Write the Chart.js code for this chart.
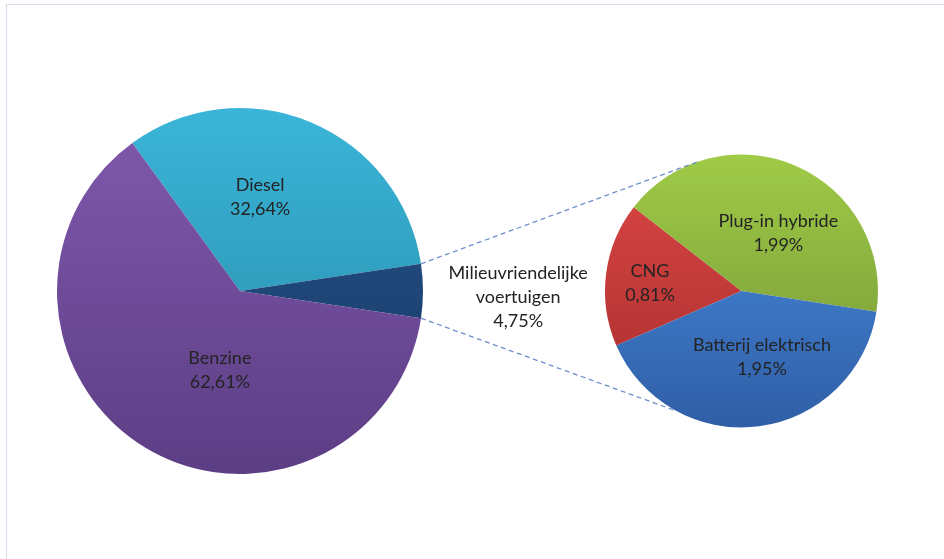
<!DOCTYPE html>
<html><head><meta charset="utf-8">
<script src="https://cdn.jsdelivr.net/npm/chart.js@4.4.0/dist/chart.umd.min.js"></script>
<style>
html,body{margin:0;padding:0;background:#fff;}
#wrap{position:relative;width:944px;height:559px;overflow:hidden;background:#fff;}
#frame{position:absolute;left:6px;top:4px;width:950px;height:570px;border-top:1px solid #d5dfeb;border-left:1px solid #d5dfeb;}
canvas{position:absolute;left:0;top:0;}
</style></head><body>
<div id="wrap"><div id="frame"></div>
<canvas id="c1" width="944" height="559"></canvas>
<canvas id="c2" width="944" height="559"></canvas></div>
<script>
// ---- data ----
const mainLabels = ['Diesel', 'Milieuvriendelijke voertuigen', 'Benzine'];
const mainValues = [32.64, 4.75, 62.61];
const subLabels = ['CNG', 'Plug-in hybride', 'Batterij elektrisch'];
const subValues = [0.81, 1.99, 1.95];

// ---- styles ----
const mainLabelLines = [['Diesel'], ['Milieuvriendelijke', 'voertuigen'], ['Benzine']];
const subLabelLines = [['CNG'], ['Plug-in hybride'], ['Batterij elektrisch']];
const mainGrad = [['#3ab5d9', '#2788a3'], ['#27568f', '#163660'], ['#8159ad', '#5c3e85']];
const subGrad = [['#dc4745', '#a62d2d'], ['#a0cb47', '#6f9135'], ['#4b90e2', '#2f5ea6']];
const mainLabelOffsets = [[0.11, -0.513], [1.52, 0.033], [-0.11, 0.434]];
const subLabelOffsets = [[-0.67, -0.06], [0.27, -0.425], [0.15, 0.485]];
const FONT = '18px Lato';
const LINE_H = 24;
const TEXT_COLOR = '#232323';
const SUB_ROTATION = 246.5;
const CONNECT_ANGLES = [-108.8, 118.5];

const fmt = v => v.toFixed(2).replace('.', ',') + '%';

function gradFill(grads) {
  return (ctx) => {
    const ca = ctx.chart.chartArea;
    const g2 = grads[ctx.dataIndex];
    if (!ca) return g2[0];
    const g = ctx.chart.ctx.createLinearGradient(0, ca.top, 0, ca.bottom);
    g.addColorStop(0, g2[0]);
    g.addColorStop(1, g2[1]);
    return g;
  };
}

function labelPlugin(lines, offsets, values) {
  return {
    id: 'lbl',
    afterDatasetsDraw(chart) {
      const meta = chart.getDatasetMeta(0);
      const c = chart.ctx;
      c.save();
      c.font = FONT;
      c.fillStyle = TEXT_COLOR;
      c.textAlign = 'center';
      c.textBaseline = 'middle';
      meta.data.forEach((arc, i) => {
        const R = arc.outerRadius;
        const cx = arc.x + offsets[i][0] * R;
        const cy = arc.y + offsets[i][1] * R;
        const all = lines[i].concat([fmt(values[i])]);
        const y0 = cy - (all.length - 1) * LINE_H / 2;
        all.forEach((t, k) => c.fillText(t, cx, y0 + k * LINE_H));
      });
      c.restore();
    }
  };
}

// rotation so that the green-vehicle slice sits centred at 3 o'clock
const mainTotal = mainValues.reduce((a, b) => a + b, 0);
const mainRotation = 90 - 360 * (mainValues[0] + mainValues[1] / 2) / mainTotal;

const chart1 = new Chart(document.getElementById('c1'), {
  type: 'pie',
  data: { labels: mainLabels, datasets: [{ data: mainValues, backgroundColor: gradFill(mainGrad), borderWidth: 0 }] },
  options: {
    responsive: false, animation: false, rotation: mainRotation,
    layout: { padding: { left: 57, right: 521, top: 108, bottom: 85 } },
    plugins: { legend: { display: false }, tooltip: { enabled: false } }
  },
  plugins: [labelPlugin(mainLabelLines, mainLabelOffsets, mainValues)]
});

const connectPlugin = {
  id: 'connect',
  afterDatasetsDraw(chart) {
    const a = chart1.getDatasetMeta(0).data[1];
    const b = chart.getDatasetMeta(0).data[0];
    const c = chart.ctx;
    const starts = [a.startAngle, a.endAngle];
    c.save();
    c.strokeStyle = '#6f90cb';
    c.lineWidth = 1.3;
    c.setLineDash([5, 3.5]);
    starts.forEach((ang, k) => {
      const x1 = a.x + a.outerRadius * Math.cos(ang);
      const y1 = a.y + a.outerRadius * Math.sin(ang);
      const e = CONNECT_ANGLES[k] * Math.PI / 180;
      const x2 = b.x + b.outerRadius * Math.cos(e);
      const y2 = b.y + b.outerRadius * Math.sin(e);
      c.beginPath(); c.moveTo(x1, y1); c.lineTo(x2, y2); c.stroke();
    });
    c.restore();
  }
};

const chart2 = new Chart(document.getElementById('c2'), {
  type: 'pie',
  data: { labels: subLabels, datasets: [{ data: subValues, backgroundColor: gradFill(subGrad), borderWidth: 0 }] },
  options: {
    responsive: false, animation: false, rotation: SUB_ROTATION,
    layout: { padding: { left: 605, right: 66, top: 154, bottom: 131 } },
    plugins: { legend: { display: false }, tooltip: { enabled: false } }
  },
  plugins: [labelPlugin(subLabelLines, subLabelOffsets, subValues), connectPlugin]
});
</script>
</body></html>
